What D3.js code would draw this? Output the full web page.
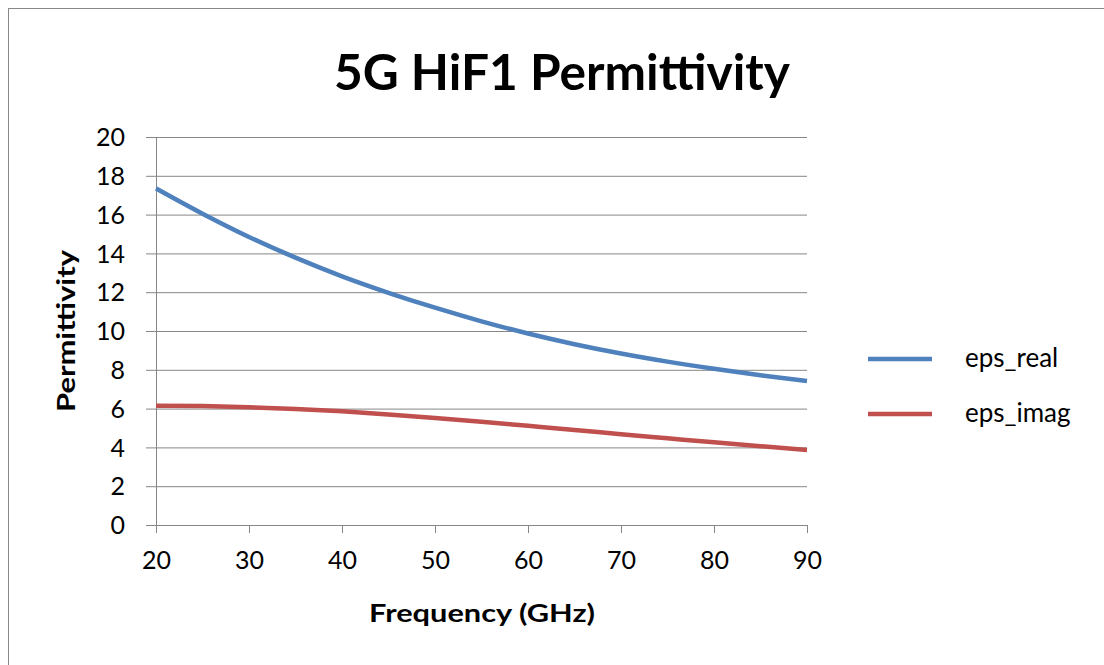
<!DOCTYPE html>
<html>
<head>
<meta charset="utf-8">
<script src="https://cdn.jsdelivr.net/npm/d3@7"></script>
<style>
  body { margin: 0; background: #fff; }
  text { font-family: Lato, "Open Sans", sans-serif; fill: #000; }
</style>
</head>
<body>
<svg width="1104" height="665"></svg>
<script>
// data
const freq = [20, 25, 30, 35, 40, 45, 50, 55, 60, 65, 70, 75, 80, 85, 90];
const epsReal = [17.35, 16.05, 14.85, 13.78, 12.82, 11.97, 11.2, 10.5, 9.87, 9.32, 8.84, 8.42, 8.05, 7.72, 7.42];
const epsImag = [6.15, 6.13, 6.07, 5.98, 5.86, 5.7, 5.52, 5.32, 5.11, 4.9, 4.68, 4.47, 4.26, 4.06, 3.87];
const xTicks = [20, 30, 40, 50, 60, 70, 80, 90];
const yTicks = [0, 2, 4, 6, 8, 10, 12, 14, 16, 18, 20];
const seriesNames = ['eps_real', 'eps_imag'];
const seriesColors = ['#4f81bd', '#c0504d'];

var plot = {left: 156, top: 137, width: 651, height: 388};

var svg = d3.select('svg');

// outer chart frame
svg.append('rect')
  .attr('x', 8.5).attr('y', 8.5)
  .attr('width', 1110).attr('height', 680)
  .attr('fill', 'none')
  .attr('stroke', '#888')
  .attr('stroke-width', 1);

var x = d3.scaleLinear()
  .domain([20, 90])
  .range([plot.left, plot.left + plot.width]);
var y = d3.scaleLinear()
  .domain([0, 20])
  .range([plot.top + plot.height, plot.top]);

// gridlines + y ticks
var yAxis = svg.append('g')
  .attr('transform', 'translate(' + plot.left + ',0)')
  .call(d3.axisLeft(y).tickValues(yTicks).tickSize(-plot.width).tickPadding(31).tickSizeOuter(0));
yAxis.select('.domain').attr('stroke', '#868686');
yAxis.selectAll('.tick line').attr('stroke', '#868686').attr('x1', -10);
yAxis.selectAll('.tick text')
  .style('font-size', '25px')
  .attr('dy', '0.35em');

var xAxis = svg.append('g')
  .attr('transform', 'translate(0,' + (plot.top + plot.height) + ')')
  .call(d3.axisBottom(x).tickValues(xTicks).tickSize(8).tickPadding(18).tickSizeOuter(0));
xAxis.select('.domain').attr('stroke', '#868686');
xAxis.selectAll('.tick line').attr('stroke', '#868686');
xAxis.selectAll('.tick text').style('font-size', '25px');

// series lines
var line = d3.line()
  .x((d, i) => x(freq[i]))
  .y((d) => y(d))
  .curve(d3.curveMonotoneX);

[epsReal, epsImag].forEach((vals, k) => {
  svg.append('path')
    .datum(vals)
    .attr('d', line)
    .attr('fill', 'none')
    .attr('stroke', seriesColors[k])
    .attr('stroke-width', 4.5)
    .attr('stroke-linecap', 'butt');
});

// titles
svg.append('text')
  .attr('x', 562).attr('y', 90)
  .attr('text-anchor', 'middle')
  .attr('textLength', 456)
  .attr('lengthAdjust', 'spacingAndGlyphs')
  .style('font-size', '50px')
  .style('font-weight', 'bold')
  .text('5G HiF1 Permittivity');

svg.append('text')
  .attr('x', 482).attr('y', 622)
  .attr('text-anchor', 'middle')
  .attr('textLength', 226)
  .attr('lengthAdjust', 'spacingAndGlyphs')
  .style('font-size', '25px')
  .style('font-weight', 'bold')
  .text('Frequency (GHz)');

svg.append('text')
  .attr('transform', 'translate(75,331) rotate(-90)')
  .attr('text-anchor', 'middle')
  .attr('textLength', 162)
  .attr('lengthAdjust', 'spacingAndGlyphs')
  .style('font-size', '25px')
  .style('font-weight', 'bold')
  .text('Permittivity');

// legend
var legend = svg.append('g').attr('transform', 'translate(868,359)');
seriesNames.forEach((name, k) => {
  var row = legend.append('g').attr('transform', 'translate(0,' + (k * 55) + ')');
  row.append('line')
    .attr('x1', 0).attr('x2', 64)
    .attr('stroke', seriesColors[k])
    .attr('stroke-width', 4.5);
  row.append('text')
    .attr('x', 97).attr('dy', '0.3em')
    .style('font-size', '26px')
    .text(name);
});
</script>
</body>
</html>
